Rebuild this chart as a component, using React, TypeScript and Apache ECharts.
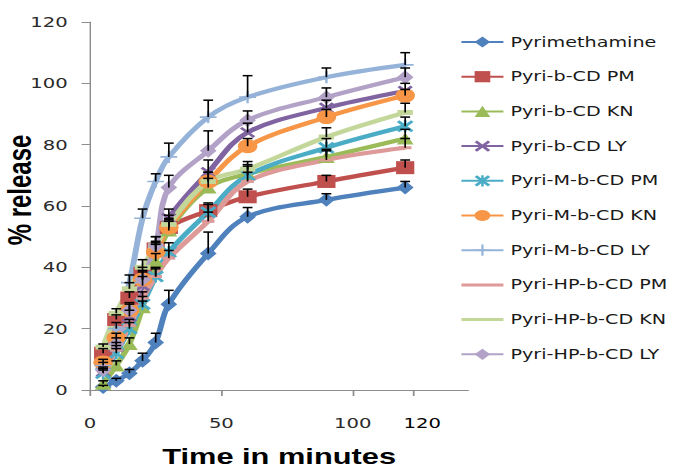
import React, { useEffect, useRef } from 'react';
import * as echarts from 'echarts';

// ---------- data ----------
const timePoints = [5, 10, 15, 20, 25, 30, 45, 60, 90, 120];

const seriesNames = [
  'Pyrimethamine',
  'Pyri-b-CD PM',
  'Pyri-b-CD KN',
  'Pyri-b-CD LY',
  'Pyri-M-b-CD PM',
  'Pyri-M-b-CD KN',
  'Pyri-M-b-CD LY',
  'Pyri-HP-b-CD PM',
  'Pyri-HP-b-CD KN',
  'Pyri-HP-b-CD LY',
];

const pyrimethamine = [1, 3, 5.5, 9.5, 15.5, 28, 44.5, 56.5, 62, 66];
const bcdPM = [12, 23, 30, 38, 46, 53, 58.5, 63, 68, 72.5];
const bcdKN = [2, 8, 15, 27, 42, 52, 66, 70.5, 76, 82];
const bcdLY = [6, 14, 24, 34, 45, 56, 71, 84, 92, 97.5];
const mbcdPM = [5.5, 12, 20, 28, 37, 45, 58, 70, 79, 86];
const mbcdKN = [9, 17, 26, 36, 45, 53, 68, 79.5, 89, 96];
const mbcdLY = [8, 20, 35, 56, 68, 76, 89, 95.5, 102, 106];
const hpbcdPM = [6, 13, 21, 30, 37, 43, 55, 68, 75, 79];
const hpbcdKN = [14, 25, 33, 40, 47, 54, 68, 72, 82.5, 90.5];
const hpbcdLY = [6.5, 15, 26, 36, 47, 66, 78, 88, 95.5, 102];

// upper error bar lengths
const errPyr = [0.5, 0.8, 1.2, 2.5, 3, 4.5, 7, 3, 2, 2];
const errBPM = [1.5, 1.5, 2, 2, 2.5, 2.5, 2, 2.5, 2, 2.5];
const errBKN = [1, 1.5, 2, 2, 2.5, 3, 3, 3, 2.5, 3];
const errBLY = [1, 1.5, 2, 3, 3, 3, 4, 3, 2.5, 2.5];
const errMPM = [1, 1.5, 2, 2.5, 3, 3, 3, 3, 3, 3];
const errMKN = [1, 1.5, 2, 2.5, 2.5, 3, 3, 2.5, 2.5, 2];
const errMLY = [1, 2, 2.5, 3, 2.5, 4.5, 5.5, 7, 3, 4];
const errHPPM = [1, 1.5, 2, 2, 2.5, 2.5, 3, 3, 3, 3];
const errHPKN = [1, 1.5, 2, 2.5, 3, 3, 3, 2.5, 3, 3];
const errHPLY = [1, 2, 2.5, 3, 3, 4, 6.5, 3, 3, 3];

const yMin = 0;
const yMax = 120;
const yInterval = 20;
const xMin = 0;
const xMax = 144;
const xLabelValues = [0, 50, 100];
const xTickValues = [0, 50, 100];
const annotationLabel = '120';
const annotationLabelPos = 126.5;
const annotationTickPos = 123;

// ---------- styling ----------
const SX = 1.4;
const W = 676;
const H = 468;
const INNER_W = W / SX;

const colors = [
  '#4F81BD',
  '#C0504D',
  '#9BBB59',
  '#8064A2',
  '#4BACC6',
  '#F79646',
  '#95B3D9',
  '#DE9A98',
  '#C4D79B',
  '#B3A2C7',
];

const X_PATH =
  'path://M0,1.5L1.5,0L5,3.5L8.5,0L10,1.5L6.5,5L10,8.5L8.5,10L5,6.5L1.5,10L0,8.5L3.5,5Z';
const STAR_PATH =
  'path://M0,1.5L1.5,0L5,3.5L8.5,0L10,1.5L6.5,5L10,8.5L8.5,10L5,6.5L1.5,10L0,8.5L3.5,5Z M4.2,0H5.8V10H4.2Z';
const PLUS_PATH = 'path://M4.3,0H5.7V4.3H10V5.7H5.7V10H4.3V5.7H0V4.3H4.3Z';
const LINE_ICON = 'path://M0,0H30V3H0Z';

const symbols: any[] = [
  ['diamond', [12, 14]],
  ['rect', 13],
  ['triangle', 12],
  [X_PATH, 11],
  [STAR_PATH, 12],
  ['circle', 14],
  [PLUS_PATH, 12],
  ['rect', [9, 3]],
  ['rect', [11, 5]],
  ['diamond', [12, 14]],
];

const plainLegendIcon = [false, false, false, false, false, false, false, true, true, false];

const allValues = [
  pyrimethamine,
  bcdPM,
  bcdKN,
  bcdLY,
  mbcdPM,
  mbcdKN,
  mbcdLY,
  hpbcdPM,
  hpbcdKN,
  hpbcdLY,
];
const allErrors = [
  errPyr,
  errBPM,
  errBKN,
  errBLY,
  errMPM,
  errMKN,
  errMLY,
  errHPPM,
  errHPKN,
  errHPLY,
];

export default function App() {
  const ref = useRef<HTMLDivElement>(null);

  useEffect(() => {
    if (!ref.current) return;
    const chart = echarts.init(ref.current, undefined, { renderer: 'svg' });

    const lineSeries = seriesNames.map((name, i) => ({
      name,
      type: 'line',
      smooth: 0.35,
      data: timePoints.map((t, j) => [t, allValues[i][j]]),
      symbol: symbols[i][0],
      symbolSize: symbols[i][1],
      showAllSymbol: true,
      lineStyle: { width: 4.2, color: colors[i] },
      itemStyle: { color: colors[i], borderWidth: 0 },
      emphasis: { disabled: true },
      z: 2,
    }));

    const errData: number[][] = [];
    allValues.forEach((vals, i) => {
      vals.forEach((v, j) => {
        errData.push([timePoints[j], v, allErrors[i][j]]);
      });
    });

    const errorSeries = {
      type: 'custom',
      name: 'errors',
      data: errData,
      encode: { x: 0, y: 1 },
      z: 5,
      silent: true,
      renderItem: (params: any, api: any) => {
        const x = api.value(0);
        const y = api.value(1);
        const e = api.value(2);
        const p0 = api.coord([x, y]);
        const p1 = api.coord([x, y + e]);
        const hw = 3.5;
        return {
          type: 'group',
          children: [
            {
              type: 'line',
              shape: { x1: p0[0], y1: p0[1], x2: p1[0], y2: p1[1] },
              style: { stroke: '#000', lineWidth: 1.2 },
            },
            {
              type: 'line',
              shape: { x1: p1[0] - hw, y1: p1[1], x2: p1[0] + hw, y2: p1[1] },
              style: { stroke: '#000', lineWidth: 1.5 },
            },
          ],
        };
      },
    };

    const labelFont = 'DejaVu Sans';

    chart.setOption({
      animation: false,
      backgroundColor: '#ffffff',
      grid: {
        left: 64.3,
        right: INNER_W - 334.3,
        top: 22,
        bottom: 78,
        containLabel: false,
        outerBoundsMode: 'none',
      },
      legend: {
        orient: 'vertical',
        left: 328.6,
        top: 35,
        padding: 0,
        itemWidth: 30,
        itemHeight: 14,
        itemGap: 20.7,
        data: seriesNames.map((name, i) =>
          plainLegendIcon[i] ? { name, icon: LINE_ICON } : { name }
        ),
        textStyle: { fontFamily: labelFont, fontSize: 13.7, color: '#1a1a1a' },
      },
      xAxis: {
        type: 'value',
        min: xMin,
        max: xMax,
        interval: 50,
        splitLine: { show: false },
        axisLine: { show: true, lineStyle: { color: '#8c8c8c', width: 1 } },
        axisTick: {
          show: true,
          length: 6,
          customValues: [...xTickValues, annotationTickPos],
          lineStyle: { color: '#8c8c8c', width: 1.2 },
        },
        axisLabel: {
          customValues: [...xLabelValues, annotationLabelPos],
          margin: 26,
          fontFamily: labelFont,
          fontSize: 14,
          color: '#2a2a2a',
          formatter: (v: number) =>
            v === annotationLabelPos ? '{k|' + annotationLabel + '}' : String(v),
          rich: { k: { color: '#000', fontFamily: labelFont, fontSize: 14 } },
        },
        name: 'Time in minutes',
        nameLocation: 'middle',
        nameGap: 56,
        nameMoveOverlap: false,
        nameTextStyle: {
          fontFamily: 'Liberation Sans',
          fontWeight: 'bold',
          fontSize: 22,
          lineHeight: 22,
          color: '#000',
        },
      },
      yAxis: {
        type: 'value',
        min: yMin,
        max: yMax,
        interval: yInterval,
        splitLine: { show: false },
        axisLine: { show: true, lineStyle: { color: '#8c8c8c', width: 1 } },
        axisTick: { show: true, length: 6, lineStyle: { color: '#8c8c8c' } },
        axisLabel: { margin: 16, fontFamily: labelFont, fontSize: 14, color: '#2a2a2a' },
        name: '% release',
        nameLocation: 'middle',
        nameGap: 38.5,
        nameMoveOverlap: false,
        nameTextStyle: {
          fontFamily: 'Liberation Sans',
          fontWeight: 'bold',
          fontSize: 24,
          lineHeight: 24,
          color: '#000',
          padding: [0, 0, 0, 32],
        },
      },
      series: [...lineSeries, errorSeries],
    });

    return () => {
      chart.dispose();
    };
  }, []);

  return (
    <div
      style={{
        position: 'fixed',
        left: 0,
        top: 0,
        width: W,
        height: H,
        overflow: 'hidden',
        background: '#fff',
      }}
    >
      <div
        ref={ref}
        style={{
          width: INNER_W,
          height: H,
          transform: `scaleX(${SX})`,
          transformOrigin: '0 0',
        }}
      />
    </div>
  );
}
